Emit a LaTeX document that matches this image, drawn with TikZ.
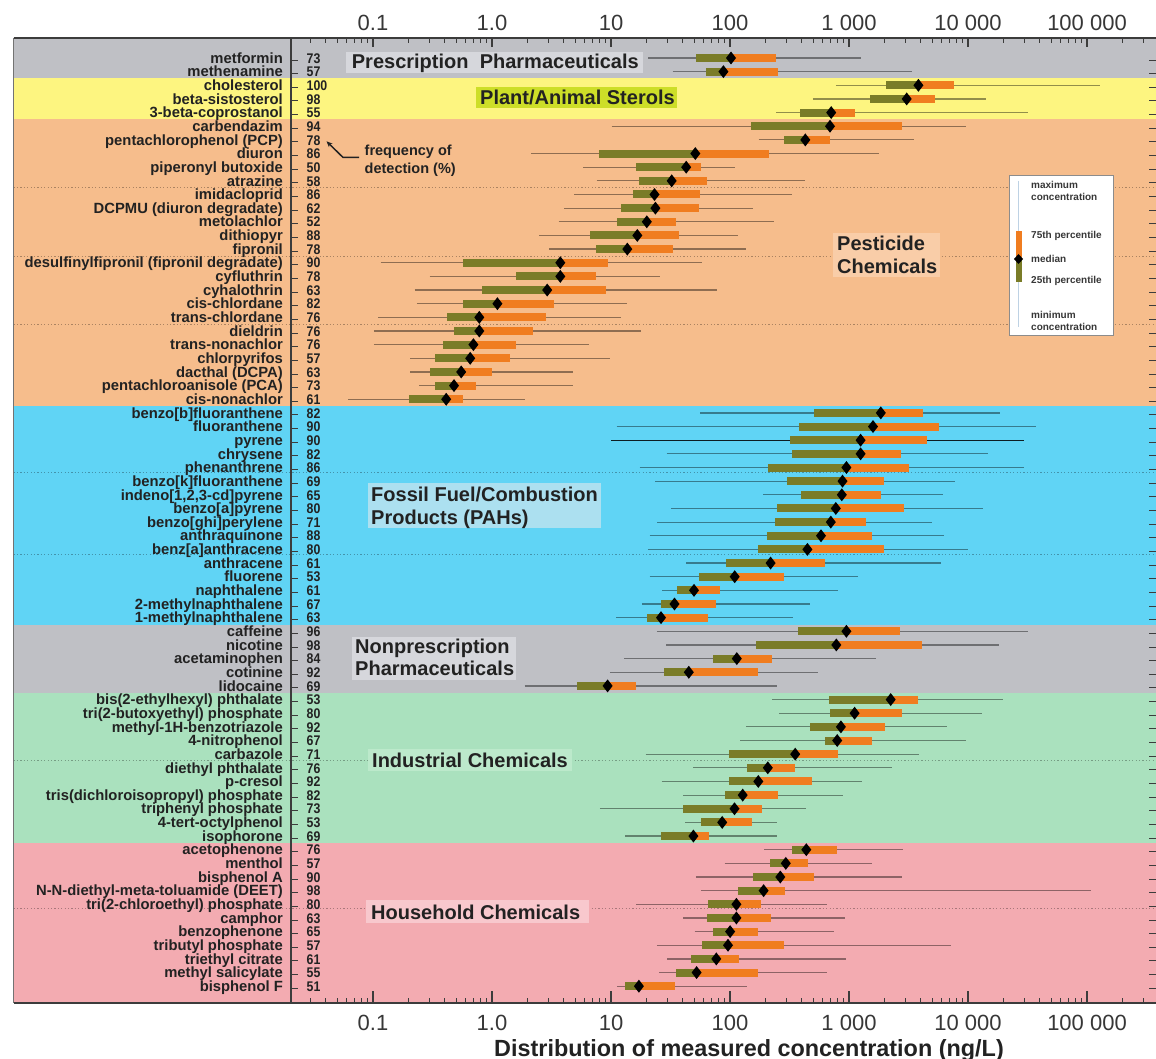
\documentclass[tikz,border=0pt]{standalone}
\usepackage{fontspec}
\setmainfont{Liberation Sans}
\usetikzlibrary{arrows.meta}
\definecolor{bgray}{RGB}{191,192,197}
\definecolor{byellow}{RGB}{253,245,128}
\definecolor{borange}{RGB}{246,189,140}
\definecolor{bblue}{RGB}{96,212,245}
\definecolor{bgreen}{RGB}{170,225,190}
\definecolor{bpink}{RGB}{243,171,177}
\definecolor{barolive}{RGB}{122,124,40}
\definecolor{barorange}{RGB}{240,125,32}
\definecolor{presbox}{RGB}{214,215,220}
\definecolor{sterbox}{RGB}{205,222,40}
\definecolor{pestbox}{RGB}{249,205,168}
\definecolor{fossbox}{RGB}{172,224,240}
\definecolor{indbox}{RGB}{188,233,203}
\definecolor{housebox}{RGB}{248,200,205}
\definecolor{txt}{RGB}{34,34,34}
\definecolor{txt2}{RGB}{55,55,55}
\definecolor{axc}{RGB}{60,60,60}
\definecolor{legwhisk}{RGB}{190,210,228}
\newcommand\fsz[1]{\fontsize{#1}{#1}\selectfont}
\begin{document}
\begin{tikzpicture}[x=1pt,y=-1pt,
  whisk/.style={line width=1.2pt,draw=black,draw opacity=0.42},
  rowlab/.style={anchor=base east,font=\fsz{14.8}\bfseries,text=txt,inner sep=0pt},
  numlab/.style={anchor=base west,font=\fsz{14}\bfseries,text=txt,inner sep=0pt},
  grplab/.style={anchor=base west,font=\fsz{20}\bfseries,text=txt,inner sep=0pt},
  ticklab/.style={anchor=base,font=\fsz{22},text=txt2,inner sep=0pt},
  leglab/.style={anchor=west,font=\fsz{10}\bfseries,text=txt2,inner sep=0pt},
  freqlab/.style={anchor=base west,font=\fsz{14.5}\bfseries,text=txt,inner sep=0pt},
  dotline/.style={line width=0.9pt,draw=black,draw opacity=0.3,dash pattern=on 1.2pt off 2.2pt},
  frameline/.style={line width=1.6pt,draw=axc},
  tickline/.style={line width=0.9pt,draw=axc}]
\useasboundingbox (0,0) rectangle (1156,1059);
% bands
\fill[bgray]   (13.5,38)    rectangle (1156,78.5);
\fill[byellow] (13.5,78.5)  rectangle (1156,119.4);
\fill[borange] (13.5,119.4) rectangle (1156,406);
\fill[bblue]   (13.5,406)   rectangle (1156,624.5);
\fill[bgray]   (13.5,624.5) rectangle (1156,692.7);
\fill[bgreen]  (13.5,692.7) rectangle (1156,843);
\fill[bpink]   (13.5,843)   rectangle (1156,1003);
% dotted lines
\foreach \yy in {187,256,324,472,554,760,908}{\draw[dotline] (13.5,\yy) -- (1156,\yy);}
% group label boxes
\fill[presbox]  (346,52)  rectangle (643,73);
\fill[sterbox]  (476,87)  rectangle (677,108);
\fill[pestbox]  (833,233) rectangle (940,277);
\fill[fossbox]  (368,483) rectangle (601,528);
\fill[presbox]  (352,637) rectangle (516,680);
\fill[indbox]   (368,749) rectangle (572,771);
\fill[housebox] (366,900) rectangle (589,923);
\node[grplab] (gpres) at (351.7,69) {Prescription\hspace{0.28em}\hspace{0.28em}Pharmaceuticals};
\node[grplab] (gster) at (480,104.5) {Plant/Animal Sterols};
\node[grplab] (gpest1) at (837,251) {Pesticide};
\node[grplab] (gpest2) at (837,274) {Chemicals};
\node[grplab] (gfoss1) at (371,501.5) {Fossil Fuel/Combustion};
\node[grplab] (gfoss2) at (371,524) {Products (PAHs)};
\node[grplab] (gnon1) at (355,653) {Nonprescription};
\node[grplab] (gnon2) at (355,675.5) {Pharmaceuticals};
\node[grplab] (gind) at (372,767) {Industrial Chemicals};
\node[grplab] (ghouse) at (371,919) {Household Chemicals};
% pyrene darker whisker
\draw[line width=1.2pt,draw=black,draw opacity=0.75] (611.3,440.2) -- (1023.7,440.2);
% data: row/min/p25/median/p75/max (px)
\foreach \i/\a/\b/\c/\d/\e in {
0/648/696/731/775.5/861, 1/672.7/705.7/723.4/778.4/912,
2/835.8/885.8/918.4/953.5/1100, 3/812.8/869.5/906.7/935/985.8, 4/776/799.6/831.2/855.3/1028,
5/611.5/751/830/902/965.6, 6/758.6/783.5/805.3/830/914, 7/531/598.8/695.3/769/878.6,
8/583.4/635.5/686.2/701/734.7, 9/596.5/638.7/671.7/706.6/804.8, 10/574.4/632.8/654.5/699.8/791.7,
11/564/621.4/655.4/698.9/752.8, 12/558.5/617.4/646.8/675.8/773.6, 13/539/589.8/637.3/678.5/738.3,
14/549/595.6/627.3/672.6/746.4, 15/380.6/463.4/560.3/608.3/702, 16/429.5/516.4/560.3/596.1/660.4,
17/414.5/482.4/547.2/605.6/716.5, 18/416.8/463/497.4/554/627.3, 19/378.3/446.7/479.3/545.8/620.5,
20/373.8/454/479.3/533.2/641, 21/373.8/442.6/473.4/516.4/588.8, 22/410/435/470.2/510/610,
23/410/429.5/461.2/492.4/573, 24/419/435/454/475.6/573, 25/348/409/446.2/463.4/524.5,
26/700.4/813.8/880.8/922.7/1000, 27/616.7/798.6/873/938.6/1035.5, 28/611.3/790.4/860.6/927/1023.7,
29/666.7/791.8/860.6/901.4/988.3, 30/639.7/768.4/846.4/908.5/1023.7, 31/655/786.9/842.5/883.7/954.6,
32/763/801.4/841.8/881.2/943.2, 33/671/776.6/835.8/904.2/983, 34/657.4/774.8/830.8/866/931.6,
35/649.6/766.7/821/872.3/944, 36/647.9/757.8/807.4/883.7/967.7, 37/686.2/725.9/770.6/824.5/941,
38/649.6/699.3/734.7/784.4/858.1, 39/662/677.3/694/719.5/837.6, 40/641.8/661/674.5/716.3/810.3,
41/616/647.2/661/708.2/793.3,
42/656.9/797.5/846.4/900.3/1028, 43/666/756.4/836.3/922.2/999.3, 44/624/713/736.8/772/876,
45/609.9/663.7/688.8/758.3/818, 46/524.5/577/607.6/636.3/776.5,
47/772/829/890.7/918/1002.5, 48/779.3/830.4/854.6/902/982.4, 49/746/809.8/840.9/885.2/946.8,
50/740.4/825/837.2/871.5/966, 51/645.5/728.6/795.2/838.2/919.4, 52/693.4/747.3/767.8/795.2/892,
53/661.5/729/758.3/812.1/862.4, 54/683.4/725.4/742.7/777.9/842.7, 55/599.8/683.4/734.5/761.9/806.2,
56/685.2/701.2/722.2/751.9/777, 57/625/660.5/693.4/708.5/777,
58/764.4/792/806.3/837.2/902.5, 59/724.7/769.9/785.8/808.4/872.4, 60/695.8/753.1/780.3/813.8/901.7,
61/700.8/737.7/763.6/785.4/1091.2, 62/636/708/736.4/760.7/827.2, 63/683.3/706.7/736.4/770.7/845.2,
64/694.6/712.5/730.1/757.7/833.5, 65/656.9/702/728/783.7/950.6, 66/667.4/691.2/716.3/739.3/846,
67/659/675.7/696.6/758.2/827.2, 68/617.2/624.7/638.9/674.9/746.9}{
  \pgfmathsetmacro\yy{58+13.65*\i}
  \draw[whisk] (\a,\yy) -- (\e,\yy);
  \fill[barolive] (\b,{\yy-4}) rectangle (\c,{\yy+4});
  \fill[barorange] (\c,{\yy-4}) rectangle (\d,{\yy+4});
  \fill[black] ({\c-5},\yy) -- (\c,{\yy-6.5}) -- ({\c+5},\yy) -- (\c,{\yy+6.5}) -- cycle;
}
% frame
\draw[line width=0.8pt,draw=black!55] (13.5,38) -- (13.5,1003);
\draw[frameline] (13.5,38) -- (1156,38);
\draw[frameline] (13.5,1003) -- (1156,1003);
\draw[line width=1.3pt,draw=axc] (291,38) -- (291,1003);
% row ticks
\foreach \i in {0,...,68}{
  \pgfmathsetmacro\yy{58+13.65*\i+2}
  \draw[tickline] (291,\yy) -- (298,\yy);
  \draw[tickline] (1149,\yy) -- (1156,\yy);
}
% axis ticks
\foreach \k in {0,...,6}{
  \draw[line width=1.1pt,draw=axc] ({373+119*\k},38) -- ({373+119*\k},47);
  \draw[line width=1.1pt,draw=axc] ({373+119*\k},1003) -- ({373+119*\k},991);
}
\foreach \dd in {-2,...,5}{\foreach \m in {2,...,9}{
  \pgfmathsetmacro\xx{492+119*(\dd+log10(\m))}
  \pgfmathparse{and(\xx>293,\xx<1154)}
  \ifnum\pgfmathresult=1
    \draw[tickline] (\xx,38) -- (\xx,43.5);
    \draw[tickline] (\xx,1003) -- (\xx,997.5);
  \fi
}}
% row labels
\foreach \i/\nm/\fr in {0/{metformin}/73, 1/{methenamine}/57, 2/{cholesterol}/100,
 3/{beta-sistosterol}/98, 4/{3-beta-coprostanol}/55, 5/{carbendazim}/94,
 6/{pentachlorophenol (PCP)}/78, 7/{diuron}/86, 8/{piperonyl butoxide}/50, 9/{atrazine}/58,
 10/{imidacloprid}/86, 11/{DCPMU (diuron degradate)}/62, 12/{metolachlor}/52, 13/{dithiopyr}/88,
 14/{fipronil}/78, 15/{desulfinylfipronil (fipronil degradate)}/90, 16/{cyfluthrin}/78,
 17/{cyhalothrin}/63, 18/{cis-chlordane}/82, 19/{trans-chlordane}/76, 20/{dieldrin}/76,
 21/{trans-nonachlor}/76, 22/{chlorpyrifos}/57, 23/{dacthal (DCPA)}/63,
 24/{pentachloroanisole (PCA)}/73, 25/{cis-nonachlor}/61, 26/{benzo[b]fluoranthene}/82,
 27/{fluoranthene}/90, 28/{pyrene}/90, 29/{chrysene}/82, 30/{phenanthrene}/86,
 31/{benzo[k]fluoranthene}/69, 32/{indeno[1,2,3-cd]pyrene}/65, 33/{benzo[a]pyrene}/80,
 34/{benzo[ghi]perylene}/71, 35/{anthraquinone}/88, 36/{benz[a]anthracene}/80,
 37/{anthracene}/61, 38/{fluorene}/53, 39/{naphthalene}/61, 40/{2-methylnaphthalene}/67,
 41/{1-methylnaphthalene}/63, 42/{caffeine}/96, 43/{nicotine}/98, 44/{acetaminophen}/84,
 45/{cotinine}/92, 46/{lidocaine}/69, 47/{bis(2-ethylhexyl) phthalate}/53,
 48/{tri(2-butoxyethyl) phosphate}/80, 49/{methyl-1H-benzotriazole}/92, 50/{4-nitrophenol}/67,
 51/{carbazole}/71, 52/{diethyl phthalate}/76, 53/{p-cresol}/92,
 54/{tris(dichloroisopropyl) phosphate}/82, 55/{triphenyl phosphate}/73,
 56/{4-tert-octylphenol}/53, 57/{isophorone}/69, 58/{acetophenone}/76, 59/{menthol}/57,
 60/{bisphenol A}/90, 61/{N-N-diethyl-meta-toluamide (DEET)}/98,
 62/{tri(2-chloroethyl) phosphate}/80, 63/{camphor}/63, 64/{benzophenone}/65,
 65/{tributyl phosphate}/57, 66/{triethyl citrate}/61, 67/{methyl salicylate}/55,
 68/{bisphenol F}/51}{
  \pgfmathsetmacro\yy{58+13.65*\i+5.2}
  \node[rowlab] (lab\i) at (283,\yy) {\nm};
  \node[numlab] (num\i) at (306.5,\yy) {\scalebox{0.88}[1]{\fr}};
}
% frequency annotation
\node[freqlab] (freq1) at (364.5,155.5) {frequency of};
\node[freqlab] (freq2) at (364.5,174) {detection (\%)};
\coordinate (fa) at (359,157.4);
\coordinate (fb) at (343,157.4);
\coordinate (fc) at (326.5,141.3);
\draw[line width=1.5pt,draw=txt,-{Stealth[length=6pt,width=5pt]}] (fa) -- (fb) -- (fc);
% legend
\draw[fill=white,draw=black!45,line width=0.8pt] (1009,175) rectangle (1113,335);
\draw[line width=1.6pt,draw=legwhisk] (1018.5,181) -- (1018.5,327);
\fill[barorange] (1015.5,231) rectangle (1021.5,259);
\fill[barolive] (1015.5,259) rectangle (1021.5,282);
\fill[black] (1014,259) -- (1018.5,254) -- (1023,259) -- (1018.5,264) -- cycle;
\node[leglab] (lg1) at (1031,185) {maximum};
\node[leglab] (lg2) at (1031,197) {concentration};
\node[leglab] (lg3) at (1031,236) {75th percentile};
\node[leglab] (lg4) at (1031,259) {median};
\node[leglab] (lg5) at (1031,281) {25th percentile};
\node[leglab] (lg6) at (1031,315) {minimum};
\node[leglab] (lg7) at (1031,327) {concentration};
% axis labels
\foreach \k/\t in {0/0.1,1/1.0,2/10,3/100,4/{1 000},5/{10 000},6/{100 000}}{
  \node[ticklab] (tt\k) at ({373+119*\k},31) {\t};
  \node[ticklab] (tb\k) at ({373+119*\k},1030.6) {\t};
}
\node[anchor=base,font=\fsz{23.4}\bfseries,text=txt,inner sep=0pt] (title) at (749,1056) {Distribution of measured concentration (ng/L)};
\end{tikzpicture}
\end{document}
